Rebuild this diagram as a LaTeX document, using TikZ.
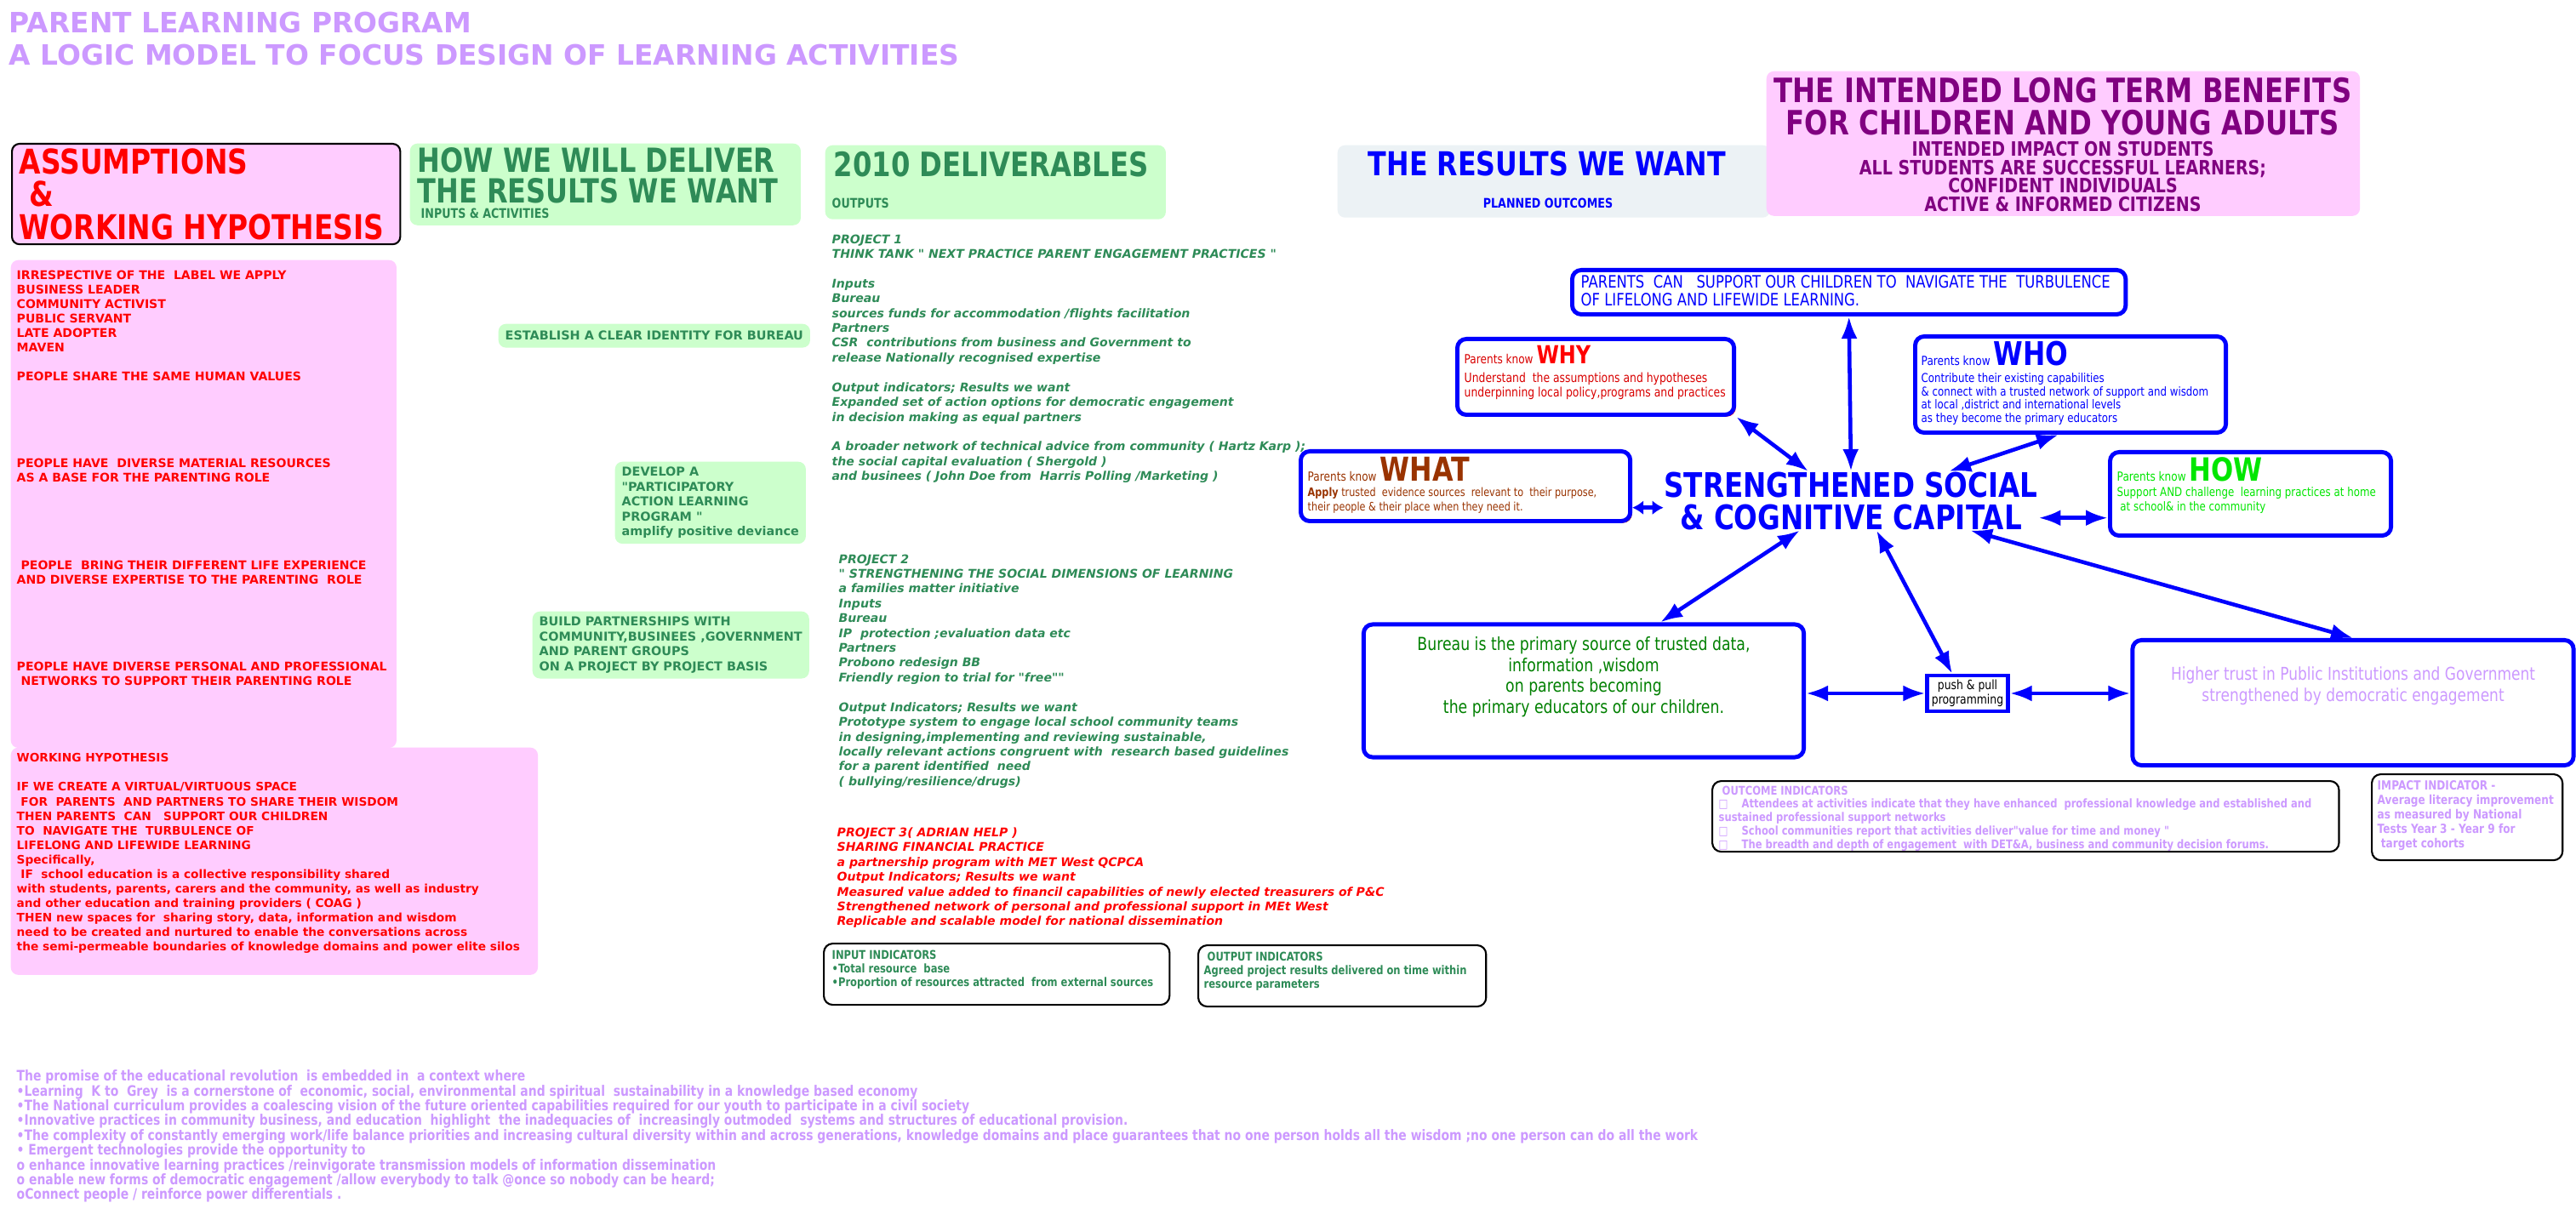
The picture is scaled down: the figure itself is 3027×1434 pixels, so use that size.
\documentclass[tikz,border=0pt]{standalone}
\usepackage{fontspec}
\setmainfont{DejaVu Sans}
\newfontfamily\plain{DejaVu Sans}
\newfontfamily\narrow{DejaVu Sans}[FakeStretch=0.82]
\usetikzlibrary{arrows.meta,shadows}

\definecolor{lavender}{RGB}{204,153,255}
\definecolor{pinkbg}{RGB}{255,204,255}
\definecolor{greenbg}{RGB}{204,255,204}
\definecolor{deepgreen}{RGB}{46,139,87}
\definecolor{plum}{RGB}{128,0,128}
\definecolor{mist}{RGB}{236,242,245}
\definecolor{rust}{RGB}{153,51,0}
\definecolor{leaf}{RGB}{0,128,0}
\definecolor{howgreen}{RGB}{0,230,0}

\newcommand{\setfs}[2]{\fontsize{#1}{#2}\selectfont}

\tikzset{
  panel/.style={rounded corners=2.5pt, inner sep=0, anchor=north west},
  pinkpanel/.style={panel, fill=pinkbg},
  greenpanel/.style={panel, fill=greenbg},
  bluebox/.style={panel, draw=blue, line width=1.4pt, fill=white, rounded corners=3pt},
  indbox/.style={panel, draw=black, line width=0.6pt, fill=white, rounded corners=3pt},
  txt/.style={anchor=north west, inner sep=0, align=left},
  link/.style={blue, line width=1.3pt, {Latex[length=2.6mm,width=1.9mm]}-{Latex[length=2.6mm,width=1.9mm]}},
}

\begin{document}
\begin{tikzpicture}[x=0.01cm, y=-0.01cm]
\useasboundingbox[fill=white] (0,0) rectangle (3027,1434);

% title
\node[txt, text=lavender, font={\setfs{9.35}{10.8}\bfseries}] (title) at (10,13)
  {PARENT LEARNING PROGRAM\\A LOGIC MODEL TO FOCUS DESIGN OF LEARNING ACTIVITIES};

% column headers
\node[pinkpanel, draw=black, line width=0.6pt, minimum width=4.56cm, minimum height=1.18cm] (assume) at (13,168) {};
\node[txt, text=red, font={\narrow\setfs{11.4}{10.95}\bfseries}] (assumetitle) at (22,174)
  {ASSUMPTIONS\\\ \&\\WORKING HYPOTHESIS};

\node[greenpanel, minimum width=4.59cm, minimum height=0.96cm] (deliver) at (481,168) {};
\node[txt, text=deepgreen, font={\narrow\setfs{11.1}{10.2}\bfseries}] (delivertitle) at (490,173)
  {HOW WE WILL DELIVER\\THE RESULTS WE WANT};
\node[txt, text=deepgreen, font={\narrow\setfs{4.4}{5}\bfseries}] (deliversub) at (494,244) {INPUTS \& ACTIVITIES};

\node[greenpanel, minimum width=4.0cm, minimum height=0.87cm] (outputs) at (969,170) {};
\node[txt, text=deepgreen, font={\narrow\setfs{11.2}{11}\bfseries}] (outputstitle) at (979,178) {2010 DELIVERABLES};
\node[txt, text=deepgreen, font={\narrow\setfs{4.4}{5}\bfseries}] (outputssub) at (977,232) {OUTPUTS};

\node[panel, fill=mist, minimum width=5.08cm, minimum height=0.85cm] (results) at (1571,170) {};
\node[anchor=north, inner sep=0, text=blue, font={\narrow\setfs{11}{11}\bfseries}] (resultstitle) at (1818,177) {THE RESULTS WE WANT};
\node[anchor=north, inner sep=0, text=blue, font={\narrow\setfs{4.4}{5}\bfseries}] (resultssub) at (1819,232) {PLANNED OUTCOMES};

\node[pinkpanel, minimum width=6.97cm, minimum height=1.70cm] (benefits) at (2075,83) {};
\node[anchor=north, inner sep=0, align=center, text=plum, font={\narrow\setfs{11.2}{10.8}\bfseries}] (benefitstitle) at (2424,91)
  {THE INTENDED LONG TERM BENEFITS\\FOR CHILDREN AND YOUNG ADULTS};
\node[anchor=north, inner sep=0, align=center, text=plum, font={\narrow\setfs{6.6}{6.1}\bfseries}] (benefitslist) at (2424,166)
  {INTENDED IMPACT ON STUDENTS\\ALL STUDENTS ARE SUCCESSFUL LEARNERS;\\CONFIDENT INDIVIDUALS\\ACTIVE \& INFORMED CITIZENS};

% assumptions
\node[pinkpanel, minimum width=4.53cm, minimum height=5.73cm] (beliefs) at (12,305) {};
\node[txt, text=red, font={\setfs{4}{4.85}\bfseries}] (beliefstext) at (19,317)
  {IRRESPECTIVE OF THE\ \ LABEL WE APPLY\\
   BUSINESS LEADER\\
   COMMUNITY ACTIVIST\\
   PUBLIC SERVANT\\
   LATE ADOPTER\\
   MAVEN\\[4.85pt]
   PEOPLE SHARE THE SAME HUMAN VALUES\\[24.25pt]
   PEOPLE HAVE\ \ DIVERSE MATERIAL RESOURCES\\
   AS A BASE FOR THE PARENTING ROLE\\[24.25pt]
   \ PEOPLE\ \ BRING THEIR DIFFERENT LIFE EXPERIENCE\\
   AND DIVERSE EXPERTISE TO THE PARENTING\ \ ROLE\\[24.25pt]
   PEOPLE HAVE DIVERSE PERSONAL AND PROFESSIONAL\\
   \ NETWORKS TO SUPPORT THEIR PARENTING ROLE};

\node[pinkpanel, minimum width=6.19cm, minimum height=2.67cm] (hypothesis) at (12,878) {};
\node[txt, text=red, font={\setfs{3.9}{4.85}\bfseries}] (hypothesistext) at (19,885)
  {WORKING HYPOTHESIS\\[4.85pt]
   IF WE CREATE A VIRTUAL/VIRTUOUS SPACE\\
   \ FOR\ \ PARENTS\ \ AND PARTNERS TO SHARE THEIR WISDOM\\
   THEN PARENTS\ \ CAN\ \ \ SUPPORT OUR CHILDREN\\
   TO\ \ NAVIGATE THE\ \ TURBULENCE OF\\
   LIFELONG AND LIFEWIDE LEARNING\\
   Specifically,\\
   \ IF\ \ school education is a collective responsibility shared\\
   with students, parents, carers and the community, as well as industry\\
   and other education and training providers ( COAG )\\
   THEN new spaces for\ \ sharing story, data, information and wisdom\\
   need to be created and nurtured to enable the conversations across\\
   the semi-permeable boundaries of knowledge domains and power elite silos};

% activities
\node[greenpanel, inner xsep=0.08cm, inner ysep=0.085cm, align=left, text=deepgreen, font={\setfs{4.1}{4.95}\bfseries}] (identity) at (585,380)
  {ESTABLISH A CLEAR IDENTITY FOR BUREAU};
\node[greenpanel, inner xsep=0.08cm, inner ysep=0.065cm, align=left, text=deepgreen, font={\plain\setfs{4.1}{4.95}\bfseries}] (develop) at (722,542)
  {DEVELOP A\\"PARTICIPATORY\\ACTION LEARNING\\PROGRAM "\\amplify positive deviance};
\node[greenpanel, inner xsep=0.08cm, inner ysep=0.065cm, align=left, text=deepgreen, font={\setfs{4.1}{4.95}\bfseries}] (partners) at (625,718)
  {BUILD PARTNERSHIPS WITH\\COMMUNITY,BUSINEES ,GOVERNMENT\\AND PARENT GROUPS\\ON A PROJECT BY PROJECT BASIS};

% deliverables
\node[txt, text=deepgreen, font={\plain\setfs{4}{4.95}\bfseries\itshape}] (project1) at (977,275)
  {PROJECT 1\\
   THINK TANK " NEXT PRACTICE PARENT ENGAGEMENT PRACTICES "\\[4.95pt]
   Inputs\\
   Bureau\\
   sources funds for accommodation /flights facilitation\\
   Partners\\
   CSR\ \ contributions from business and Government to\\
   release Nationally recognised expertise\\[4.95pt]
   Output indicators; Results we want\\
   Expanded set of action options for democratic engagement\\
   in decision making as equal partners\\[4.95pt]
   A broader network of technical advice from community ( Hartz Karp );\\
   the social capital evaluation ( Shergold )\\
   and businees ( John Doe from\ \ Harris Polling /Marketing )};

\node[txt, text=deepgreen, font={\plain\setfs{4}{4.95}\bfseries\itshape}] (project2) at (985,651)
  {PROJECT 2\\
   " STRENGTHENING THE SOCIAL DIMENSIONS OF LEARNING\\
   a families matter initiative\\
   Inputs\\
   Bureau\\
   IP\ \ protection ;evaluation data etc\\
   Partners\\
   Probono redesign BB\\
   Friendly region to trial for "free""\\[4.95pt]
   Output Indicators; Results we want\\
   Prototype system to engage local school community teams\\
   in designing,implementing and reviewing sustainable,\\
   locally relevant actions congruent with\ \ research based guidelines\\
   for a parent identified\ \ need\\
   ( bullying/resilience/drugs)};

\node[txt, text=red, font={\setfs{4}{4.95}\bfseries\itshape}] (project3) at (983,972)
  {PROJECT 3( ADRIAN HELP )\\
   SHARING FINANCIAL PRACTICE\\
   a partnership program with MET West QCPCA\\
   Output Indicators; Results we want\\
   Measured value added to financil capabilities of newly elected treasurers of P\&C\\
   Strengthened network of personal and professional support in MEt West\\
   Replicable and scalable model for national dissemination};

\node[indbox, minimum width=4.06cm, minimum height=0.72cm] (inputind) at (967,1108) {};
\node[txt, text=deepgreen, font={\narrow\setfs{4}{4.6}\bfseries}] (inputindtext) at (977,1116)
  {INPUT INDICATORS\\•Total resource\ \ base\\•Proportion of resources attracted\ \ from external sources};
\node[indbox, minimum width=3.38cm, minimum height=0.72cm] (outputind) at (1407,1110) {};
\node[txt, text=deepgreen, font={\narrow\setfs{4}{4.6}\bfseries}] (outputindtext) at (1414,1118)
  {\ OUTPUT INDICATORS\\Agreed project results delivered on time within\\resource parameters};

% results we want
\node[bluebox, minimum width=6.5cm, minimum height=0.52cm] (navigate) at (1845,315) {};
\node[txt, text=blue, font={\narrow\setfs{5.7}{6}}] (navigatetext) at (1857,323)
  {PARENTS\ \ CAN\ \ \ SUPPORT OUR CHILDREN TO\ \ NAVIGATE THE\ \ TURBULENCE\\OF LIFELONG AND LIFEWIDE LEARNING.};

\node[bluebox, minimum width=3.25cm, minimum height=0.89cm, drop shadow={shadow xshift=0.6pt, shadow yshift=-0.6pt, fill=red, opacity=1}] (why) at (1710,396) {};
\node[anchor=base west, inner sep=0, text=red!85!black, font={\narrow\setfs{4.2}{5}}] (whyhead) at (1720,428)
  {Parents know {\setfs{8.3}{9}\bfseries\color{red}WHY}};
\node[txt, text=red!85!black, font={\narrow\setfs{4.3}{4.85}}] (whytext) at (1720,437)
  {Understand\ \ the assumptions and hypotheses\\underpinning local policy,programs and practices};

\node[bluebox, minimum width=3.65cm, minimum height=1.13cm] (who) at (2248,393) {};
\node[anchor=base west, inner sep=0, text=blue, font={\narrow\setfs{4.2}{5}}] (whohead) at (2257,430)
  {Parents know {\setfs{10.9}{11}\bfseries WHO}};
\node[txt, text=blue, font={\narrow\setfs{4.1}{4.4}}] (whotext) at (2257,438)
  {Contribute their existing capabilities\\\& connect with a trusted network of support and wisdom\\at local ,district and international levels\\as they become the primary educators};

\node[bluebox, minimum width=3.87cm, minimum height=0.82cm, drop shadow={shadow xshift=0.6pt, shadow yshift=-0.6pt, fill=rust!80!red, opacity=1}] (what) at (1526,528) {};
\node[anchor=base west, inner sep=0, text=rust, font={\narrow\setfs{4.2}{5}}] (whathead) at (1536,566)
  {Parents know {\setfs{11}{11}\bfseries WHAT}};
\node[txt, text=rust, font={\narrow\setfs{3.9}{4.85}}] (whattext) at (1536,572)
  {\textbf{Apply} trusted\ \ evidence sources\ \ relevant to\ \ their purpose,\\their people \& their place when they need it.};

\node[bluebox, minimum width=3.3cm, minimum height=0.98cm] (how) at (2477,529) {};
\node[anchor=base west, inner sep=0, text=howgreen, font={\narrow\setfs{4.2}{5}}] (howhead) at (2487,566)
  {Parents know {\setfs{10.7}{11}\bfseries HOW}};
\node[txt, text=howgreen, font={\narrow\setfs{4.1}{4.85}}] (howtext) at (2487,572)
  {Support AND challenge\ \ learning practices at home\\\ at school\& in the community};

\node[anchor=north, inner sep=0, align=center, text=blue, font={\narrow\setfs{11.3}{10.8}\bfseries}] (capital) at (2175,554)
  {STRENGTHENED SOCIAL\\\& COGNITIVE CAPITAL};

\node[bluebox, anchor=center, minimum width=5.17cm, minimum height=1.56cm] (bureau) at (1861,812) {};
\node[anchor=north, inner sep=0, align=center, text=leaf, font={\narrow\setfs{6}{7}}] (bureautext) at (1861,748)
  {Bureau is the primary source of trusted data,\\information ,wisdom\\on parents becoming\\the primary educators of our children.};
\node[draw=blue, line width=1.2pt, fill=white, inner sep=0, minimum width=0.95cm, minimum height=0.42cm, align=center, font={\narrow\setfs{4.3}{5}}] (push) at (2312,815)
  {push \& pull\\programming};
\node[bluebox, anchor=center, minimum width=5.18cm, minimum height=1.47cm] (higher) at (2765,826) {};
\node[anchor=north, inner sep=0, align=center, text=lavender, font={\narrow\setfs{5.9}{7}}] (highertext) at (2765,783)
  {Higher trust in Public Institutions and Government\\strengthened by democratic engagement};

\node[indbox, minimum width=7.36cm, minimum height=0.83cm] (outcome) at (2011,917) {};
\node[txt, text=lavender, font={\narrow\setfs{4}{4.47}\bfseries}] (outcometext) at (2019,923)
  {\ OUTCOME INDICATORS\\
   □\ \ \ \ Attendees at activities indicate that they have enhanced\ \ professional knowledge and established and\\
   sustained professional support networks\\
   □\ \ \ \ School communities report that activities deliver"value for time and money "\\
   □\ \ \ \ The breadth and depth of engagement\ \ with DET\&A, business and community decision forums.};
\node[indbox, minimum width=2.24cm, minimum height=1.01cm] (impact) at (2786,909) {};
\node[txt, text=lavender, font={\narrow\setfs{4.2}{4.85}\bfseries}] (impacttext) at (2793,917)
  {IMPACT INDICATOR -\\Average literacy improvement\\as measured by National\\Tests Year 3 - Year 9 for\\\ target cohorts};

% links
\draw[link] (navigate.south) -- (capital.north);
\draw[link] (why.south east) -- ([xshift=-0.5cm]capital.north);
\draw[link] ([xshift=-0.14cm]who.south) -- ([xshift=1.15cm]capital.north);
\draw[link, {Latex[length=1.3mm,width=1.7mm]}-{Latex[length=1.3mm,width=1.7mm]}] ([yshift=-0.08cm]what.east |- capital.west) -- ([yshift=-0.08cm]capital.west);
\draw[link] ([yshift=-0.2cm]capital.east) -- ([yshift=-0.2cm]capital.east -| how.west);
\draw[link] ([xshift=0.9cm]bureau.north) -- ([xshift=-0.6cm]capital.south);
\draw[link] ([xshift=-0.18cm]push.north) -- ([xshift=0.3cm]capital.south);
\draw[link] (higher.north) -- ([xshift=1.4cm]capital.south);
\draw[link] (push.west -| bureau.east) -- (push.west);
\draw[link] (push.east) -- (push.east -| higher.west);

% context
\node[txt, text=lavender, font={\narrow\setfs{4.83}{4.95}\bfseries}] (context) at (19,1257)
  {The promise of the educational revolution\ \ is embedded in\ \ a context where\\
   •Learning\ \ K to\ \ Grey\ \ is a cornerstone of\ \ economic, social, environmental and spiritual\ \ sustainability in a knowledge based economy\\
   •The National curriculum provides a coalescing vision of the future oriented capabilities required for our youth to participate in a civil society\\
   •Innovative practices in community business, and education\ \ highlight\ \ the inadequacies of\ \ increasingly outmoded\ \ systems and structures of educational provision.\\
   •The complexity of constantly emerging work/life balance priorities and increasing cultural diversity within and across generations, knowledge domains and place guarantees that no one person holds all the wisdom ;no one person can do all the work\\
   • Emergent technologies provide the opportunity to\\
   o enhance innovative learning practices /reinvigorate transmission models of information dissemination\\
   o enable new forms of democratic engagement /allow everybody to talk @once so nobody can be heard;\\
   oConnect people / reinforce power differentials .};
\end{tikzpicture}
\end{document}
